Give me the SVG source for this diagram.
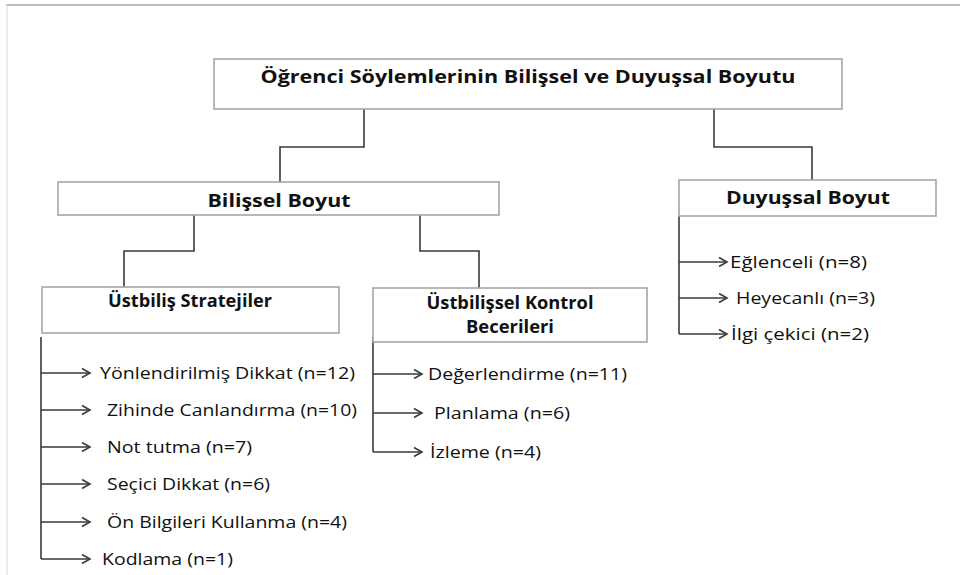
<svg xmlns="http://www.w3.org/2000/svg" width="960" height="575" viewBox="0 0 960 575">
<defs>
<style>
.box{fill:#fff;stroke:#a6a6a6;stroke-width:1.6}
.ln{fill:none;stroke:#3a3a3a;stroke-width:1.6}
.ttl{font-family:"Open Sans","Liberation Sans",sans-serif;font-weight:bold;fill:#111}
.lbl{font-family:"Open Sans","Liberation Sans",sans-serif;font-size:17px;fill:#111}
</style>
<marker id="ah" markerWidth="12" markerHeight="12" refX="10" refY="6" orient="auto" markerUnits="userSpaceOnUse">
<polyline points="2,1.5 10,6 2,10.5" fill="none" stroke="#3a3a3a" stroke-width="1.6"/>
</marker>
</defs>
<rect width="960" height="575" fill="#fff"/>
<line x1="6" y1="5" x2="960" y2="5" stroke="#bdbdbd" stroke-width="2"/>
<line x1="7" y1="5" x2="7" y2="575" stroke="#e6e6e6" stroke-width="1.5"/>

<g id="connectors">
<polyline class="ln" points="364,109 364,147 280,147 280,182"/>
<polyline class="ln" points="714,109 714,147 812,147 812,180"/>
<polyline class="ln" points="194,215 194,251 124,251 124,287"/>
<polyline class="ln" points="420,215 420,251 479,251 479,288"/>
<line class="ln" x1="41" y1="337" x2="41" y2="559"/>
<line class="ln" x1="41" y1="373" x2="90" y2="373" marker-end="url(#ah)"/>
<line class="ln" x1="41" y1="410" x2="90" y2="410" marker-end="url(#ah)"/>
<line class="ln" x1="41" y1="447" x2="90" y2="447" marker-end="url(#ah)"/>
<line class="ln" x1="41" y1="484" x2="90" y2="484" marker-end="url(#ah)"/>
<line class="ln" x1="41" y1="522" x2="90" y2="522" marker-end="url(#ah)"/>
<line class="ln" x1="41" y1="559" x2="90" y2="559" marker-end="url(#ah)"/>
<line class="ln" x1="373" y1="337" x2="373" y2="452"/>
<line class="ln" x1="373" y1="374" x2="422" y2="374" marker-end="url(#ah)"/>
<line class="ln" x1="373" y1="413" x2="422" y2="413" marker-end="url(#ah)"/>
<line class="ln" x1="373" y1="452" x2="422" y2="452" marker-end="url(#ah)"/>
<line class="ln" x1="679" y1="216" x2="679" y2="334"/>
<line class="ln" x1="679" y1="262" x2="727" y2="262" marker-end="url(#ah)"/>
<line class="ln" x1="679" y1="298" x2="727" y2="298" marker-end="url(#ah)"/>
<line class="ln" x1="679" y1="334" x2="727" y2="334" marker-end="url(#ah)"/>
</g>

<g id="root">
<rect class="box" x="214" y="59" width="628" height="50"/>
<text class="ttl" x="528" y="83" font-size="18" text-anchor="middle" textLength="535" lengthAdjust="spacingAndGlyphs">Öğrenci Söylemlerinin Bilişsel ve Duyuşsal Boyutu</text>
</g>
<g id="bilissel">
<rect class="box" x="58" y="182" width="441" height="33"/>
<text class="ttl" x="279" y="207" font-size="18" text-anchor="middle" textLength="143" lengthAdjust="spacingAndGlyphs">Bilişsel Boyut</text>
</g>
<g id="duyussal">
<rect class="box" x="679" y="180" width="257" height="36"/>
<text class="ttl" x="808" y="204" font-size="18" text-anchor="middle" textLength="164" lengthAdjust="spacingAndGlyphs">Duyuşsal Boyut</text>
</g>
<g id="ustbilis">
<rect class="box" x="42" y="287" width="297" height="46"/>
<text class="ttl" x="190" y="307" font-size="17" text-anchor="middle" textLength="164" lengthAdjust="spacingAndGlyphs">Üstbiliş Stratejiler</text>
</g>
<g id="ustbilissel">
<rect class="box" x="373" y="288" width="274" height="54"/>
<text class="ttl" x="510" y="309" font-size="17" text-anchor="middle" textLength="167" lengthAdjust="spacingAndGlyphs">Üstbilişsel Kontrol</text>
<text class="ttl" x="510" y="333" font-size="17" text-anchor="middle" textLength="88" lengthAdjust="spacingAndGlyphs">Becerileri</text>
</g>

<g id="ustbilis-items">
<text class="lbl" x="100" y="379" textLength="255" lengthAdjust="spacingAndGlyphs">Yönlendirilmiş Dikkat (n=12)</text>
<text class="lbl" x="107" y="416" textLength="250" lengthAdjust="spacingAndGlyphs">Zihinde Canlandırma (n=10)</text>
<text class="lbl" x="107" y="453" textLength="145" lengthAdjust="spacingAndGlyphs">Not tutma (n=7)</text>
<text class="lbl" x="107" y="490" textLength="163" lengthAdjust="spacingAndGlyphs">Seçici Dikkat (n=6)</text>
<text class="lbl" x="107" y="528" textLength="240" lengthAdjust="spacingAndGlyphs">Ön Bilgileri Kullanma (n=4)</text>
<text class="lbl" x="102" y="565" textLength="131" lengthAdjust="spacingAndGlyphs">Kodlama (n=1)</text>
</g>
<g id="kontrol-items">
<text class="lbl" x="428" y="380" textLength="199" lengthAdjust="spacingAndGlyphs">Değerlendirme (n=11)</text>
<text class="lbl" x="434" y="419" textLength="136" lengthAdjust="spacingAndGlyphs">Planlama (n=6)</text>
<text class="lbl" x="430" y="458" textLength="111" lengthAdjust="spacingAndGlyphs">İzleme (n=4)</text>
</g>
<g id="duyussal-items">
<text class="lbl" x="730" y="268" textLength="137" lengthAdjust="spacingAndGlyphs">Eğlenceli (n=8)</text>
<text class="lbl" x="736" y="304" textLength="139" lengthAdjust="spacingAndGlyphs">Heyecanlı (n=3)</text>
<text class="lbl" x="731" y="340" textLength="138" lengthAdjust="spacingAndGlyphs">İlgi çekici (n=2)</text>
</g>
</svg>
